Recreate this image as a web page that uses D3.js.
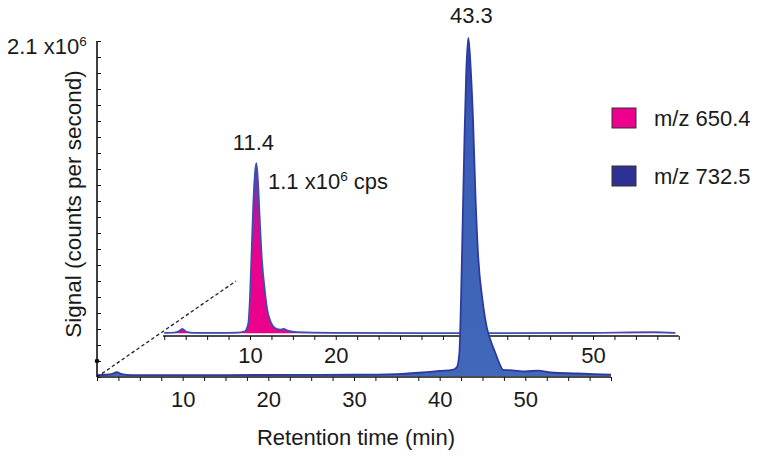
<!DOCTYPE html>
<html><head><meta charset="utf-8">
<script src="https://cdn.jsdelivr.net/npm/d3@7"></script>
<style>
body{margin:0;background:#fff}
svg text{font-family:"Liberation Sans",Arial,Helvetica,sans-serif;fill:#1a1a1a}
</style>
</head><body>
<svg id="chart" width="762" height="456"></svg>
<script>
// ---- data (signal in units of 1e6 counts per second, time in minutes) ----
const mainTime   = [0,1,1.8,2.3,2.9,4,8,15,22,30,35,38,40,41.5,42,42.3,42.5,42.7,42.9,43.1,43.35,43.6,43.9,44.2,44.5,45.0,45.5,46.0,46.5,47.0,47.4,48.5,50,51.5,53,56,58,60];
const mainSignal = [0.012,0.014,0.02,0.03,0.018,0.012,0.012,0.012,0.013,0.014,0.018,0.028,0.038,0.045,0.06,0.15,0.5,1.0,1.5,1.9,2.12,1.95,1.6,1.1,0.75,0.48,0.31,0.22,0.15,0.08,0.045,0.042,0.035,0.04,0.028,0.022,0.018,0.015];
const insetTime   = [0,1.2,1.7,2.1,2.6,3.5,6,8.5,9.4,9.8,10.0,10.2,10.4,10.6,10.75,10.95,11.15,11.4,11.7,12.0,12.4,12.9,13.5,13.9,14.5,15.5,20,30,40,50,57,59.6];
const insetSignal = [0.02,0.022,0.03,0.045,0.026,0.02,0.019,0.021,0.03,0.08,0.25,0.55,0.85,1.03,1.08,0.95,0.72,0.47,0.3,0.17,0.09,0.05,0.04,0.045,0.032,0.024,0.02,0.018,0.018,0.02,0.024,0.02];
const mainTickLabels  = [10,20,30,40,50];
const insetTickLabels = [10,20,50];
const legendLabels = ["m/z 650.4","m/z 732.5"];
const legendColors = ["#ec008c","#2e3192"];
const mainPeakLabel = "43.3", mainPeakTime = 43.35;
const insetPeakLabel = "11.4", insetPeakTime = 10.75;

const svg = d3.select("#chart");
const xMain  = d3.scaleLinear([0,60],[97,611]);
const yMain  = d3.scaleLinear([0,2.1],[377,41]);
const xInset = d3.scaleLinear([0,60],[164.25,678.75]);
const yInset = d3.scaleLinear([0,2.1],[336,0]);

const defs = svg.append("defs");
const gI = defs.append("linearGradient").attr("id","gInset").attr("gradientUnits","userSpaceOnUse")
  .attr("x1",0).attr("x2",0).attr("y1",yInset(1.08)).attr("y2",yInset(0));
gI.append("stop").attr("offset",0).attr("stop-color","#3d4fb4");
gI.append("stop").attr("offset",0.28).attr("stop-color","#b8169a");
gI.append("stop").attr("offset",0.45).attr("stop-color","#ea038d");
gI.append("stop").attr("offset",1).attr("stop-color","#ec008c");
const gM = defs.append("linearGradient").attr("id","gMain").attr("gradientUnits","userSpaceOnUse")
  .attr("x1",0).attr("x2",0).attr("y1",yMain(2.12)).attr("y2",yMain(0));
gM.append("stop").attr("offset",0).attr("stop-color","#2a3ea8");
gM.append("stop").attr("offset",0.25).attr("stop-color","#3a5cb6");
gM.append("stop").attr("offset",1).attr("stop-color","#4168b9");

const tickVals = d3.range(0,60.01,2.5);

// ---- inset (m/z 650.4) ----
const insetData = insetTime.map((t,i)=>({t, v:insetSignal[i]}));
const gInsetAxis = svg.append("g").attr("transform",`translate(0,${yInset(0)})`)
  .call(d3.axisBottom(xInset).tickValues(tickVals).tickSize(4).tickPadding(7)
    .tickFormat(d=>insetTickLabels.includes(d)?d:""));
gInsetAxis.select(".domain").attr("d",`M${xInset(-0.15)},0H${xInset(60)}`).attr("stroke","#111").attr("stroke-width",1.6);
gInsetAxis.selectAll(".tick line").attr("stroke","#111").attr("stroke-width",1);
gInsetAxis.selectAll("text").attr("font-size",22).attr("fill","#1a1a1a");

svg.append("path").datum(insetData)
  .attr("d", d3.area().x(d=>xInset(d.t)).y0(yInset(0.017)).y1(d=>yInset(d.v)).curve(d3.curveMonotoneX))
  .attr("fill","url(#gInset)");
svg.append("path").datum(insetData)
  .attr("d", d3.line().x(d=>xInset(d.t)).y(d=>yInset(d.v)).curve(d3.curveMonotoneX))
  .attr("fill","none").attr("stroke","#3b4fb2").attr("stroke-width",1.7);

// ---- main (m/z 732.5) ----
const mainData = mainTime.map((t,i)=>({t, v:mainSignal[i]}));
svg.append("path").datum(mainData)
  .attr("d", d3.area().x(d=>xMain(d.t)).y0(yMain(0.006)).y1(d=>yMain(d.v)).curve(d3.curveMonotoneX))
  .attr("fill","url(#gMain)");
svg.append("path").datum(mainData)
  .attr("d", d3.line().x(d=>xMain(d.t)).y(d=>yMain(d.v)).curve(d3.curveMonotoneX))
  .attr("fill","none").attr("stroke","#2d3a9e").attr("stroke-width",1.8);

const gMainAxis = svg.append("g").attr("transform",`translate(0,${yMain(0)})`)
  .call(d3.axisBottom(xMain).tickValues(tickVals).tickSize(4).tickPadding(10)
    .tickFormat(d=>mainTickLabels.includes(d)?d:""));
gMainAxis.select(".domain").attr("d",`M${xMain(0)},0H${xMain(60)}`).attr("stroke","#111").attr("stroke-width",1.6);
gMainAxis.selectAll(".tick line").attr("stroke","#111").attr("stroke-width",1);
gMainAxis.selectAll("text").attr("font-size",22).attr("fill","#1a1a1a");

// y axis with inward ticks
const gY = svg.append("g").attr("transform",`translate(${xMain(0)},0)`)
  .call(d3.axisRight(yMain).tickValues(d3.range(0,2.101,0.1)).tickSize(4).tickFormat(""));
gY.select(".domain").attr("d",`M0,${yMain(0)}V${yMain(2.1)}`).attr("stroke","#111").attr("stroke-width",1.6);
gY.selectAll(".tick line").attr("stroke","#111").attr("stroke-width",1);
svg.append("circle").attr("cx",xMain(0)).attr("cy",yMain(0.1)).attr("r",2.3).attr("fill","#111");

// dashed perspective line
svg.append("line").attr("x1",xMain(0)).attr("y1",yMain(0)).attr("x2",236).attr("y2",281)
  .attr("stroke","#222").attr("stroke-width",1.3).attr("stroke-dasharray","3.5,2.5");

// ---- texts ----
const topLabel = svg.append("text").attr("x",7).attr("y",54).attr("font-size",22);
topLabel.append("tspan").text("2.1 x10");
topLabel.append("tspan").attr("font-size",13.5).attr("dy",-8).text("6");

svg.append("text").attr("transform","translate(81,204) rotate(-90)")
  .attr("text-anchor","middle").attr("font-size",22.5).text("Signal (counts per second)");
svg.append("text").attr("x",356).attr("y",445).attr("text-anchor","middle")
  .attr("font-size",22).text("Retention time (min)");

svg.append("text").attr("x",xMain(mainPeakTime)+3).attr("y",23).attr("text-anchor","middle")
  .attr("font-size",22).text(mainPeakLabel);
svg.append("text").attr("x",xInset(insetPeakTime)-3).attr("y",150).attr("text-anchor","middle")
  .attr("font-size",22).text(insetPeakLabel);
const cps = svg.append("text").attr("x",268).attr("y",189).attr("font-size",22);
cps.append("tspan").text("1.1 x10");
cps.append("tspan").attr("font-size",13.5).attr("dy",-8).text("6");
cps.append("tspan").attr("dy",8).text(" cps");

// legend
const leg = svg.append("g");
legendLabels.forEach((lab,i)=>{
  const yy = 108 + i*58;
  leg.append("rect").attr("x",612).attr("y",yy).attr("width",24).attr("height",20)
    .attr("fill",legendColors[i]).attr("stroke","#333").attr("stroke-width",1);
  leg.append("text").attr("x",654).attr("y",yy+18).attr("font-size",22).text(lab);
});
</script>
</body></html>
